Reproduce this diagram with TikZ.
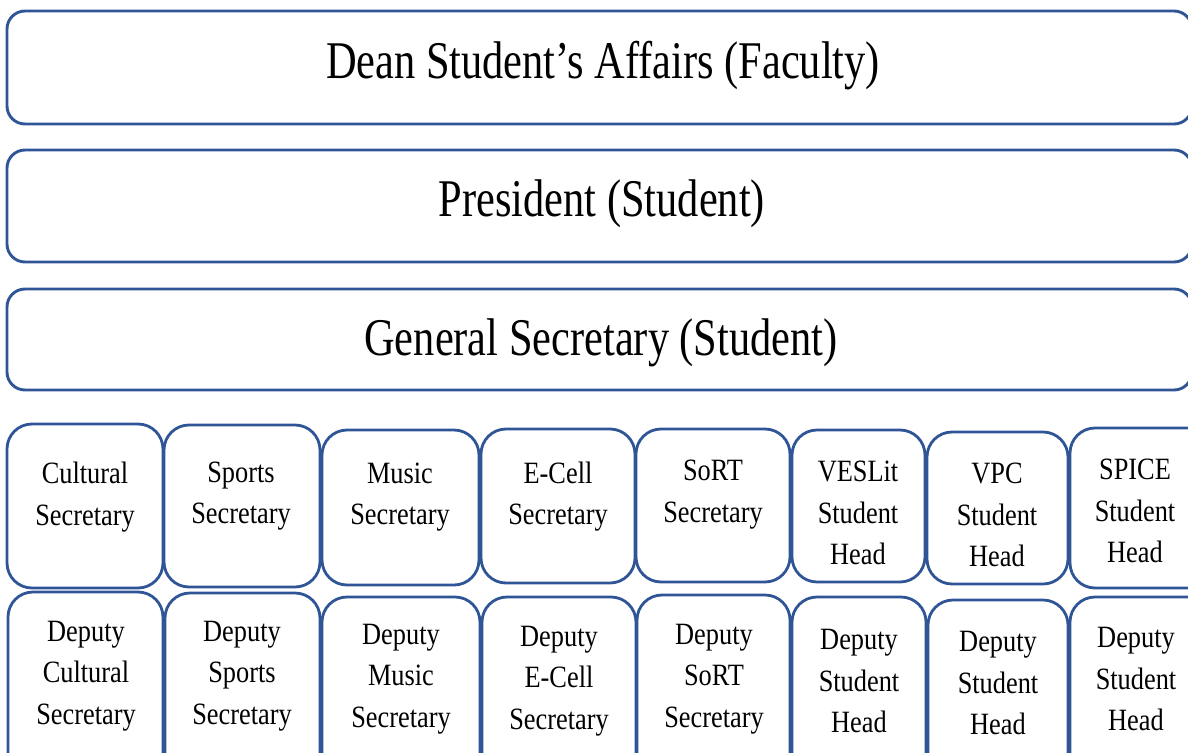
\documentclass[tikz,border=0pt]{standalone}
\usepackage{fontspec}
\setmainfont{Liberation Serif}
\newfontfamily\bigfont[FakeStretch=0.8]{Liberation Serif}
\newfontfamily\smallfont[FakeStretch=0.85]{Liberation Serif}
\definecolor{boxblue}{RGB}{47,85,151}
\tikzset{
  bigbox/.style={draw=boxblue, line width=2.9pt, rounded corners=18pt, fill=white},
  smbox/.style={draw=boxblue, line width=2.8pt, rounded corners=25pt, fill=white},
  bigtxt/.style={font=\bigfont\fontsize{53}{60}\selectfont, inner sep=0pt},
  smtxt/.style={font=\smallfont\fontsize{31}{41.5}\selectfont, align=center, inner sep=0pt},
}
\begin{document}
\begin{tikzpicture}[x=1pt,y=-1pt]
\useasboundingbox (0,0) rectangle (1188,752);
\clip (0,0) rectangle (1188,752);
% big boxes
\draw[bigbox] (7,11) rectangle (1192,124);
\draw[bigbox] (7,150) rectangle (1192,262);
\draw[bigbox] (7,289) rectangle (1192,390);
\node[bigtxt] (dean) at (603,66) {Dean Student’s Affairs (Faculty)};
\node[bigtxt] (pres) at (602,204) {President (Student)};
\node[bigtxt] (gs) at (601,343) {General Secretary (Student)};
% row 1
\draw[smbox] (7,424) rectangle (163,588);
\draw[smbox] (164,425) rectangle (320,587);
\draw[smbox] (322,430) rectangle (479,585);
\draw[smbox] (481,429) rectangle (635,583);
\draw[smbox] (636,429) rectangle (790,582);
\draw[smbox] (792,430) rectangle (925,582);
\draw[smbox] (927,432) rectangle (1068,584);
\draw[smbox] (1070,428) rectangle (1215,588);
% row 2
\draw[smbox] (8,592) rectangle (163,780);
\draw[smbox] (165,593) rectangle (320,780);
\draw[smbox] (322,597) rectangle (480,780);
\draw[smbox] (482,597) rectangle (636,780);
\draw[smbox] (637,595) rectangle (790,780);
\draw[smbox] (792,597) rectangle (926,780);
\draw[smbox] (928,600) rectangle (1068,780);
\draw[smbox] (1070,597) rectangle (1215,780);
% row 1 text
\node[smtxt] (t1) at (85,497) {Cultural\\Secretary};
\node[smtxt] (t2) at (241,496) {Sports\\Secretary};
\node[smtxt] (t3) at (400,497) {Music\\Secretary};
\node[smtxt] (t4) at (558,496.5) {E-Cell\\Secretary};
\node[smtxt] (t5) at (713,494.5) {SoRT\\Secretary};
\node[smtxt] (t6) at (858,513) {VESLit\\Student\\Head};
\node[smtxt] (t7) at (997,515) {VPC\\Student\\Head};
\node[smtxt] (t8) at (1135,511) {SPICE\\Student\\Head};
% row 2 text
\node[smtxt] (d1) at (86,676) {Deputy\\Cultural\\Secretary};
\node[smtxt] (d2) at (242,676) {Deputy\\Sports\\Secretary};
\node[smtxt] (d3) at (401,679) {Deputy\\Music\\Secretary};
\node[smtxt] (d4) at (559,681) {Deputy\\E-Cell\\Secretary};
\node[smtxt] (d5) at (714,679) {Deputy\\SoRT\\Secretary};
\node[smtxt] (d6) at (859,681) {Deputy\\Student\\Head};
\node[smtxt] (d7) at (998,683) {Deputy\\Student\\Head};
\node[smtxt] (d8) at (1136,679) {Deputy\\Student\\Head};
\end{tikzpicture}
\end{document}
